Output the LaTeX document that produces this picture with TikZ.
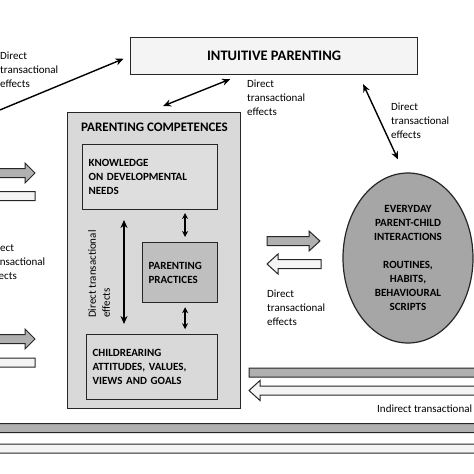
\documentclass[tikz,border=0pt]{standalone}
\usepackage{fontspec}
\setmainfont{Carlito}
\usetikzlibrary{arrows.meta,shapes.geometric}
\definecolor{compgray}{HTML}{D9D9D9}
\definecolor{knowgray}{HTML}{DEDEDE}
\definecolor{pracgray}{HTML}{BFBFBF}
\definecolor{ellgray}{HTML}{A6A6A6}
\definecolor{bargray}{HTML}{B0B0B0}
\definecolor{barwhite}{HTML}{F4F4F4}
\tikzset{
  boxline/.style={draw=black!85, line width=1.2pt},
  innerbox/.style={boxline, fill=#1, anchor=north west, inner xsep=6pt,
    align=left, font=\bfseries\fontsize{11pt}{14pt}\selectfont},
  effect/.style={align=left, anchor=north west, inner sep=0pt,
    font=\fontsize{11pt}{14pt}\selectfont},
  onearrow/.style={line width=1.4pt, -{Stealth[length=8pt,width=7pt]}},
  dblarrow/.style={line width=1.4pt,
    {Stealth[length=8pt,width=7pt]}-{Stealth[length=8pt,width=7pt]}},
  smallarrow/.style={line width=1.4pt,
    {Stealth[length=6pt,width=6pt]}-{Stealth[length=6pt,width=6pt]}},
  fatline/.style={draw=black!85, line width=1pt}
}
% fill, tail x, tip x, mid y, head length (negative points left)
\newcommand{\fatarrow}[5]{%
  \draw[fatline, fill=#1] (#2,#4-4.5) -- ({#3-(#5)},#4-4.5) -- ({#3-(#5)},#4-10)
    -- (#3,#4) -- ({#3-(#5)},#4+10) -- ({#3-(#5)},#4+4.5) -- (#2,#4+4.5) -- cycle;}

\begin{document}
\begin{tikzpicture}[x=1pt, y=-1pt]
	\useasboundingbox (0,0) rectangle (474,474);
	\clip (0,0) rectangle (474,474);
	% top box
	\node[boxline, fill=barwhite, anchor=north west, minimum width=287pt,
	  minimum height=37pt, font=\bfseries\fontsize{14.5pt}{17pt}\selectfont]
	  (intuit) at (130,37) {INTUITIVE PARENTING};
	% competences
	\node[boxline, fill=compgray, anchor=north west, minimum width=173pt,
	  minimum height=296pt] (comp) at (67,112) {};
	\node[anchor=west, inner sep=0pt,
	  font=\bfseries\fontsize{13pt}{15pt}\selectfont]
	  (comptitle) at (81,127) {PARENTING COMPETENCES};
	\node[innerbox=knowgray, text width=123pt, minimum height=65pt]
	  (know) at (82,144) {KNOWLEDGE\\ON DEVELOPMENTAL\\NEEDS};
	\node[innerbox=pracgray, text width=63pt, minimum height=60pt]
	  (prac) at (142,242) {PARENTING\\PRACTICES};
	\node[innerbox=compgray, text width=119pt, minimum height=65pt]
	  (rear) at (86,334) {CHILDREARING\\ATTITUDES, VALUES,\\VIEWS AND GOALS};
	% everyday interactions
	\node[ellipse, boxline, fill=ellgray, minimum width=130pt, minimum height=170pt,
	  align=center, font=\bfseries\fontsize{11pt}{14pt}\selectfont]
	  (daily) at (408,258)
	  {EVERYDAY\\PARENT-CHILD\\INTERACTIONS\\[14pt]ROUTINES,\\HABITS,\\BEHAVIOURAL\\SCRIPTS};
	% line arrows
	\coordinate (farleft) at (-5,112);
	\draw[onearrow, shorten >=7pt] (farleft) -- (intuit.west);
	\draw[dblarrow] ([xshift=9pt,yshift=6pt]comp.north) -- ([xshift=-44pt,yshift=-4pt]intuit.south);
	\draw[dblarrow] ([xshift=-55pt,yshift=-9pt]intuit.south east) -- ([xshift=-10pt,yshift=13pt]daily.north);
	\coordinate (vtop) at (124,220);
	\coordinate (vbot) at (124,324);
	\draw[dblarrow] (vtop) -- (vbot);
	\draw[smallarrow] ([xshift=5pt,yshift=5pt]prac.north) -- ([xshift=5pt,yshift=29pt]prac.north);
	\draw[smallarrow] ([xshift=5pt,yshift=-4pt]prac.south) -- ([xshift=5pt,yshift=-26pt]prac.south);
	% block arrows
	\fatarrow{bargray}{-20}{35}{173}{10}
	\fatarrow{barwhite}{35}{-40}{196}{-10}
	\fatarrow{bargray}{-20}{35}{339}{10}
	\fatarrow{barwhite}{35}{-40}{362.5}{-10}
	\fatarrow{bargray}{267}{320}{241}{11}
	\fatarrow{barwhite}{321}{267}{264}{-11}
	\fatarrow{bargray}{249}{530}{372.5}{11}
	\fatarrow{barwhite}{530}{249}{390.5}{-11}
	\fatarrow{bargray}{-30}{530}{428}{11}
	\fatarrow{barwhite}{530}{-30}{448.5}{-11}
	% effect labels
	\node[effect] (efftop) at (0,52) {Direct\\transactional\\effects};
	\node[effect] (effmid) at (247,80) {Direct\\transactional\\effects};
	\node[effect] (effright) at (391,103) {Direct\\transactional\\effects};
	\node[effect] (effleft) at (-13,244) {Direct\\transactional\\effects};
	\node[effect] (effdaily) at (267,290) {Direct\\transactional\\effects};
	\node[effect, anchor=west, rotate=90] (effvert) at (99,318) {Direct transactional\\effects};
	\node[effect] (effind) at (377,405) {Indirect transactional effects};
\end{tikzpicture}
\end{document}
